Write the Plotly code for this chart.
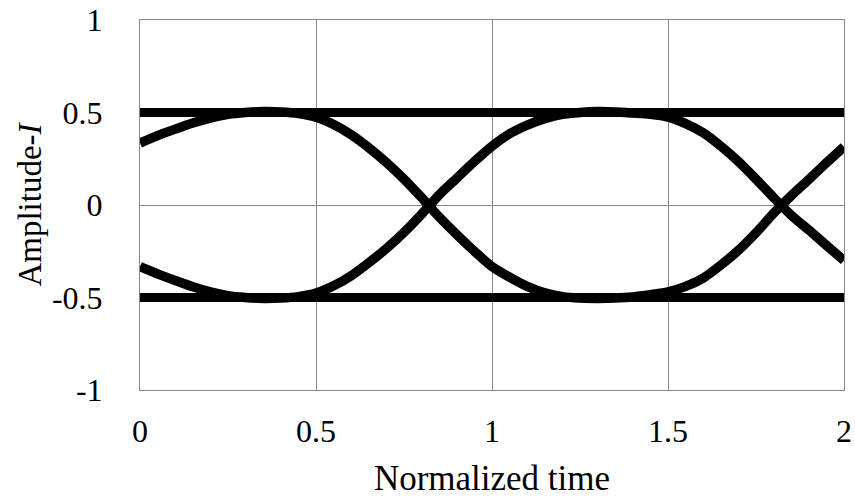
import plotly.graph_objects as go

# Normalized time samples shared by both eye traces
time = [0.00, 0.05, 0.10, 0.15, 0.20, 0.25, 0.30, 0.35, 0.40, 0.45, 0.50,
        0.55, 0.60, 0.65, 0.70, 0.75, 0.80, 0.85, 0.90, 0.95, 1.00,
        1.05, 1.10, 1.15, 1.20, 1.25, 1.30, 1.35, 1.40, 1.45, 1.50,
        1.55, 1.60, 1.65, 1.70, 1.75, 1.80, 1.85, 1.90, 1.95, 2.00]

# Trace that opens at the upper side of the eye
upper_start = [0.335, 0.375, 0.410, 0.443, 0.470, 0.490, 0.500, 0.505, 0.503, 0.495, 0.475,
               0.435, 0.380, 0.310, 0.230, 0.140, 0.040, -0.065, -0.160, -0.250, -0.333,
               -0.390, -0.440, -0.475, -0.495, -0.503, -0.505, -0.503, -0.497, -0.485, -0.470,
               -0.440, -0.395, -0.325, -0.245, -0.150, -0.045, 0.050, 0.138, 0.228, 0.315]

# Trace that opens at the lower side of the eye
lower_start = [-0.333, -0.372, -0.408, -0.442, -0.470, -0.490, -0.500, -0.505, -0.503, -0.495, -0.476,
               -0.437, -0.382, -0.312, -0.235, -0.148, -0.050, 0.055, 0.145, 0.235, 0.318,
               0.385, 0.432, 0.467, 0.490, 0.500, 0.505, 0.503, 0.497, 0.490, 0.475,
               0.440, 0.390, 0.318, 0.235, 0.140, 0.040, -0.055, -0.135, -0.218, -0.300]

# Constant symbol levels
levels = [0.5, -0.5]
level_span = [0.0, 2.0]

x_ticks = [0, 0.5, 1, 1.5, 2]
x_tick_text = ["0", "0.5", "1", "1.5", "2"]
y_ticks = [-1, -0.5, 0, 0.5, 1]
y_tick_text = ["-1", "-0.5", "0", "0.5", "1"]

FONT = "Liberation Serif, 'Times New Roman', Times, serif"
GRID = "#868686"

fig = go.Figure()

for lv in levels:
    fig.add_trace(go.Scatter(
        x=level_span, y=[lv, lv], mode="lines",
        line=dict(color="black", width=9),
        hoverinfo="skip", showlegend=False,
    ))

for series in (upper_start, lower_start):
    fig.add_trace(go.Scatter(
        x=time, y=series, mode="lines",
        line=dict(color="black", width=9.5, shape="spline", smoothing=0.8),
        showlegend=False,
    ))

fig.update_layout(
    width=855, height=503,
    margin=dict(l=140, r=11, t=20, b=113),
    paper_bgcolor="white", plot_bgcolor="white",
    font=dict(family=FONT, size=32, color="black"),
    showlegend=False,
)

fig.update_xaxes(
    range=[0, 2], tickvals=x_ticks, ticktext=x_tick_text,
    showgrid=True, gridcolor=GRID, gridwidth=1,
    showline=True, linecolor=GRID, linewidth=1, mirror=True,
    zeroline=False, ticks="", ticklabelstandoff=13, automargin=False,
    title=dict(text="Normalized time", font=dict(family=FONT, size=35), standoff=17),
)

fig.update_yaxes(
    range=[-1, 1], tickvals=y_ticks, ticktext=y_tick_text,
    showgrid=True, gridcolor=GRID, gridwidth=1,
    showline=True, linecolor=GRID, linewidth=1, mirror=True,
    zeroline=False, ticks="", ticklabelstandoff=30, automargin=False,
    title=dict(text="Amplitude-<i>I</i>", font=dict(family=FONT, size=33), standoff=0),
)

fig.write_html("out.html")
